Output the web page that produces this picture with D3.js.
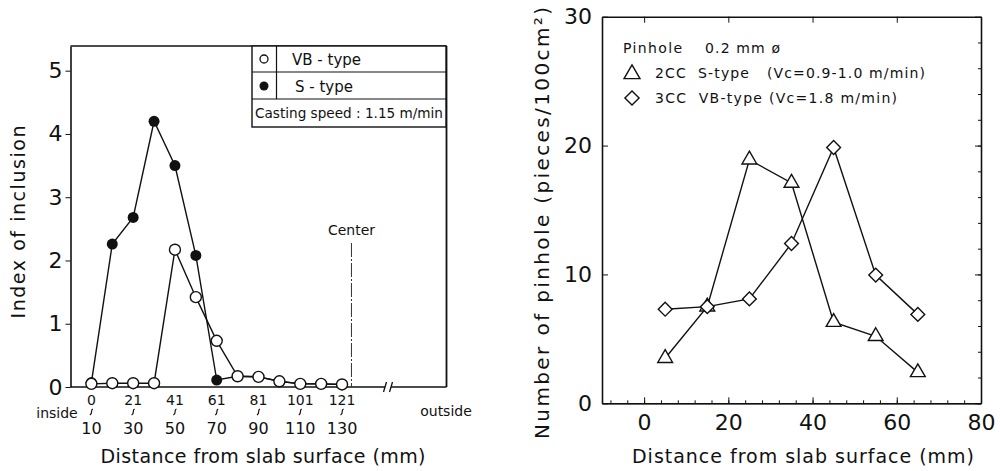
<!DOCTYPE html>
<html lang="en">
<head>
<meta charset="UTF-8">
<title>Inclusion and pinhole distribution</title>
<script src="https://d3js.org/d3.v7.min.js"></script>
<style>
  body { margin: 0; background: #fff; }
  text { font-family: "DejaVu Sans", sans-serif; fill: #111; }
  .axis path, .axis line { stroke: #111; }
</style>
</head>
<body>
<div id="chart"></div>
<script>

// ---- data: left chart (index of inclusion per 10 mm bin) ----
var binStart = [0, 11, 21, 31, 41, 51, 61, 71, 81, 91, 101, 111, 121];
var binEnd   = [10, 20, 30, 40, 50, 60, 70, 80, 90, 100, 110, 120, 130];
var sType  = [0.07, 2.26, 2.68, 4.2, 3.5, 2.08, 0.11, 0.17, 0.16, 0.09, 0.05, 0.05, 0.04];
var vbType = [0.05, 0.06, 0.06, 0.06, 2.17, 1.42, 0.73, 0.17, 0.16, 0.09, 0.05, 0.05, 0.04];
var leftYTicks = [0, 1, 2, 3, 4, 5];

// ---- data: right chart (pinhole count) ----
var pinX = [5, 15, 25, 35, 45, 55, 65];
var sType2cc  = [3.5, 7.5, 18.9, 17.1, 6.3, 5.2, 2.4];
var vbType3cc = [7.3, 7.5, 8.1, 12.4, 19.85, 9.95, 6.9];
var rightXTicks = [0, 20, 40, 60, 80];
var rightYTicks = [0, 10, 20, 30];

var svg = d3.select("#chart")
    .append("svg")
    .attr("width", 1000)
    .attr("height", 471);

// =================== left chart ===================
var xL = d3.scaleLinear().domain([-1, 17]).range([70.5, 446.5]);
var yL = d3.scaleLinear().domain([0, 5.39]).range([387, 46]);

var left = svg.append("g");

// y axis (left frame)
left.append("g")
  .attr("class", "axis")
  .attr("transform", "translate(" + xL(-1) + ",0)")
  .call(d3.axisLeft(yL).tickValues(leftYTicks).tickFormat(d3.format("d"))
        .tickSize(5).tickSizeOuter(0).tickPadding(3))
  .call(function(g) {
    g.select(".domain").attr("stroke-width", 1.6);
    g.selectAll("text").style("font-size", "22px");
  });

// top and right frame
left.append("line")
  .attr("x1", xL(-1)).attr("x2", xL(17))
  .attr("y1", yL.range()[1]).attr("y2", yL.range()[1])
  .attr("stroke", "#111").attr("stroke-width", 1.4);
left.append("line")
  .attr("x1", xL(17)).attr("x2", xL(17))
  .attr("y1", yL.range()[1]).attr("y2", yL(0))
  .attr("stroke", "#111").attr("stroke-width", 1.8);

// bottom axis with a break
var breakIdx = 14.2;
left.append("line")
  .attr("x1", xL(-1)).attr("x2", xL(breakIdx) - 3)
  .attr("y1", yL(0)).attr("y2", yL(0))
  .attr("stroke", "#111").attr("stroke-width", 1.6);
left.append("line")
  .attr("x1", xL(breakIdx) + 3).attr("x2", xL(17))
  .attr("y1", yL(0)).attr("y2", yL(0))
  .attr("stroke", "#111").attr("stroke-width", 1.6);
[-3, 3].forEach(function(dx) {
  left.append("line")
    .attr("x1", xL(breakIdx) + dx - 1.5).attr("x2", xL(breakIdx) + dx + 1.5)
    .attr("y1", yL(0) + 5).attr("y2", yL(0) - 5)
    .attr("stroke", "#111").attr("stroke-width", 1.3);
});

// x tick labels: every other bin, "start ~ end"
binStart.forEach(function(s, i) {
  if (i % 2 !== 0) return;
  var cx = xL(i);
  left.append("text").attr("x", cx).attr("y", 405)
    .attr("text-anchor", "middle").style("font-size", "14px").text(s);
  // small squiggle meaning "to"
  left.append("path")
    .attr("d", "M" + (cx + 1.5) + ",409 C" + (cx - 1.5) + ",410 " + (cx + 2) + ",413 " + (cx - 1.5) + ",415")
    .attr("fill", "none").attr("stroke", "#111").attr("stroke-width", 1.2);
  left.append("text").attr("x", cx).attr("y", 434)
    .attr("text-anchor", "middle").style("font-size", "16px").text(binEnd[i]);
});
left.append("text").attr("x", 57).attr("y", 418)
  .attr("text-anchor", "middle").style("font-size", "14px").text("inside");
left.append("text").attr("x", 446).attr("y", 416)
  .attr("text-anchor", "middle").style("font-size", "14px").text("outside");

// center line
var centerIdx = 12.45;
left.append("line")
  .attr("x1", xL(centerIdx)).attr("x2", xL(centerIdx))
  .attr("y1", 243).attr("y2", yL(0))
  .attr("stroke", "#333").attr("stroke-width", 1)
  .attr("stroke-dasharray", "14,2,2,2");
left.append("text").attr("x", xL(centerIdx)).attr("y", 235)
  .attr("text-anchor", "middle").style("font-size", "14px").text("Center");

// titles
left.append("text")
  .attr("transform", "translate(25,222) rotate(-90)")
  .attr("text-anchor", "middle").style("font-size", "19px")
  .attr("textLength", 193).attr("lengthAdjust", "spacing")
  .text("Index of inclusion");
left.append("text").attr("x", 263).attr("y", 463)
  .attr("text-anchor", "middle").style("font-size", "19px")
  .attr("textLength", 325).attr("lengthAdjust", "spacing")
  .text("Distance from slab surface (mm)");

// lines
var lineS = d3.line().x(function(d, i) { return xL(i); }).y(function(d) { return yL(d); });
left.append("path").datum(sType)
  .attr("fill", "none").attr("stroke", "#111").attr("stroke-width", 1.4)
  .attr("d", lineS);
left.append("path").datum(vbType)
  .attr("fill", "none").attr("stroke", "#111").attr("stroke-width", 1.4)
  .attr("d", lineS);
left.selectAll(".sdot").data(sType.slice(0, 7)).enter().append("circle")
  .attr("cx", function(d, i) { return xL(i); })
  .attr("cy", function(d) { return yL(d); })
  .attr("r", 5.5).attr("fill", "#111");
left.selectAll(".vbdot").data(vbType).enter().append("circle")
  .attr("cx", function(d, i) { return xL(i); })
  .attr("cy", function(d) { return yL(d); })
  .attr("r", 5.5).attr("fill", "#fff").attr("stroke", "#111").attr("stroke-width", 1.4);

// legend box
var lg = left.append("g");
lg.append("rect").attr("x", 252).attr("y", 46).attr("width", 194).attr("height", 81)
  .attr("fill", "#fff").attr("stroke", "#111").attr("stroke-width", 1.4);
lg.append("line").attr("x1", 252).attr("x2", 446).attr("y1", 72).attr("y2", 72)
  .attr("stroke", "#111").attr("stroke-width", 1.2);
lg.append("line").attr("x1", 252).attr("x2", 446).attr("y1", 99).attr("y2", 99)
  .attr("stroke", "#111").attr("stroke-width", 1.2);
lg.append("line").attr("x1", 276.5).attr("x2", 276.5).attr("y1", 46).attr("y2", 99)
  .attr("stroke", "#111").attr("stroke-width", 1.2);
lg.append("circle").attr("cx", 264).attr("cy", 59).attr("r", 4)
  .attr("fill", "#fff").attr("stroke", "#111").attr("stroke-width", 1.3);
lg.append("circle").attr("cx", 264).attr("cy", 86).attr("r", 4.5).attr("fill", "#111");
lg.append("text").attr("x", 292).attr("y", 65).style("font-size", "15px").text("VB - type");
lg.append("text").attr("x", 295).attr("y", 92).style("font-size", "15px").text("S - type");
lg.append("text").attr("x", 255).attr("y", 118).style("font-size", "14px")
  .attr("textLength", 188).attr("lengthAdjust", "spacingAndGlyphs")
  .text("Casting speed : 1.15 m/min");

// =================== right chart ===================
var xR = d3.scaleLinear().domain([-10, 80]).range([602, 981]);
var yR = d3.scaleLinear().domain([0, 30]).range([403.3, 16.7]);
var right = svg.append("g");

var minorX = d3.range(-8, 80, 4);
var minorY = d3.range(0, 30, 2);

right.append("g").attr("class", "axis")
  .attr("transform", "translate(0," + yR(0) + ")")
  .call(d3.axisBottom(xR).tickValues(minorX).tickSize(-3).tickSizeOuter(0).tickFormat(""));
right.append("g").attr("class", "axis")
  .attr("transform", "translate(0," + yR(0) + ")")
  .call(d3.axisBottom(xR).tickValues(rightXTicks).tickSize(-6).tickSizeOuter(0).tickPadding(11))
  .call(function(g) {
    g.select(".domain").attr("stroke-width", 1.6);
    g.selectAll("text").style("font-size", "22px");
  });
right.append("g").attr("class", "axis")
  .attr("transform", "translate(0," + yR(30) + ")")
  .call(d3.axisTop(xR).tickValues(rightXTicks).tickSize(-6).tickSizeOuter(0).tickFormat(""))
  .call(function(g) { g.select(".domain").attr("stroke-width", 1.4); });
right.append("g").attr("class", "axis")
  .attr("transform", "translate(" + xR(-10) + ",0)")
  .call(d3.axisLeft(yR).tickValues(rightYTicks).tickSize(-6).tickSizeOuter(0).tickPadding(10))
  .call(function(g) {
    g.select(".domain").attr("stroke-width", 1.6);
    g.selectAll("text").style("font-size", "22px");
  });
right.append("g").attr("class", "axis")
  .attr("transform", "translate(" + xR(80) + ",0)")
  .call(d3.axisRight(yR).tickValues(minorY).tickSize(-3).tickSizeOuter(0).tickFormat(""));
right.append("g").attr("class", "axis")
  .attr("transform", "translate(" + xR(80) + ",0)")
  .call(d3.axisRight(yR).tickValues(rightYTicks).tickSize(-6).tickSizeOuter(0).tickFormat(""))
  .call(function(g) { g.select(".domain").attr("stroke-width", 1.6); });

// titles
right.append("text")
  .attr("transform", "translate(549,223) rotate(-90)")
  .attr("text-anchor", "middle").style("font-size", "20px")
  .attr("textLength", 432).attr("lengthAdjust", "spacing")
  .text("Number of pinhole (pieces/100cm\u00B2)");
right.append("text").attr("x", 803).attr("y", 463)
  .attr("text-anchor", "middle").style("font-size", "19px")
  .attr("textLength", 342).attr("lengthAdjust", "spacing")
  .text("Distance from slab surface (mm)");

// series
var lineR = d3.line().x(function(d, i) { return xR(pinX[i]); }).y(function(d) { return yR(d); });
right.append("path").datum(sType2cc)
  .attr("fill", "none").attr("stroke", "#111").attr("stroke-width", 1.4).attr("d", lineR);
right.append("path").datum(vbType3cc)
  .attr("fill", "none").attr("stroke", "#111").attr("stroke-width", 1.4).attr("d", lineR);

var tri = d3.symbol().type(d3.symbolTriangle).size(95);
var dia = d3.symbol().type(d3.symbolSquare).size(95);
right.selectAll(".tri").data(sType2cc).enter().append("path")
  .attr("transform", function(d, i) { return "translate(" + xR(pinX[i]) + "," + yR(d) + ")"; })
  .attr("d", tri).attr("fill", "#fff").attr("stroke", "#111").attr("stroke-width", 1.4);
right.selectAll(".dia").data(vbType3cc).enter().append("path")
  .attr("transform", function(d, i) { return "translate(" + xR(pinX[i]) + "," + yR(d) + ") rotate(45)"; })
  .attr("d", dia).attr("fill", "#fff").attr("stroke", "#111").attr("stroke-width", 1.4);

// legend
right.append("text").attr("x", 623).attr("y", 53).style("font-size", "14px")
  .attr("textLength", 59).attr("lengthAdjust", "spacing").text("Pinhole");
right.append("text").attr("x", 705).attr("y", 53).style("font-size", "14px")
  .attr("textLength", 75).attr("lengthAdjust", "spacing").text("0.2 mm \u00F8");
right.append("path").attr("transform", "translate(632,74)").attr("d", d3.symbol().type(d3.symbolTriangle).size(110))
  .attr("fill", "#fff").attr("stroke", "#111").attr("stroke-width", 1.4);
right.append("path").attr("transform", "translate(632,98) rotate(45)").attr("d", d3.symbol().type(d3.symbolSquare).size(100))
  .attr("fill", "#fff").attr("stroke", "#111").attr("stroke-width", 1.4);
right.append("text").attr("x", 655).attr("y", 78).style("font-size", "14px")
  .attr("xml:space", "preserve").attr("textLength", 270).attr("lengthAdjust", "spacing")
  .text("2CC  S-type   (Vc=0.9-1.0 m/min)");
right.append("text").attr("x", 655).attr("y", 103).style("font-size", "14px")
  .attr("xml:space", "preserve").attr("textLength", 242).attr("lengthAdjust", "spacing")
  .text("3CC  VB-type (Vc=1.8 m/min)");

</script>
</body>
</html>
